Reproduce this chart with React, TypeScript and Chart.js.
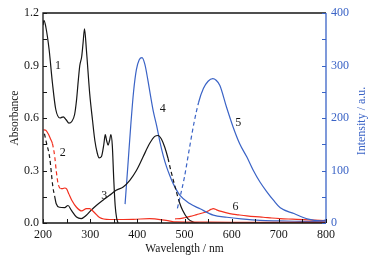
import React, { useEffect, useRef } from "react";
import { Chart, registerables } from "chart.js";
Chart.register(...registerables);

// ---- data ----
const nm1 = [200, 202, 206, 213, 220, 227, 236, 243, 249, 255, 261, 267, 271, 275, 278, 282, 285, 288, 292, 299, 305, 310, 315, 319, 324, 329, 332, 335, 338, 341, 344, 347, 350, 353, 356, 359];
const abs1 = [1.13, 1.158, 1.12, 0.99, 0.8, 0.65, 0.6, 0.607, 0.59, 0.571, 0.58, 0.62, 0.7, 0.82, 0.9, 0.95, 1.03, 1.11, 0.99, 0.74, 0.587, 0.47, 0.4, 0.372, 0.38, 0.45, 0.505, 0.47, 0.445, 0.47, 0.505, 0.44, 0.25, 0.1, 0.03, 0.0];

const nm2 = [201, 206, 211, 216, 220, 225, 228, 232, 237, 242, 246, 250, 255, 261, 271, 282, 292, 299, 305, 310, 320, 341, 391, 426, 461, 483, 520, 600, 700, 800];
const abs2 = [0.533, 0.53, 0.51, 0.48, 0.454, 0.377, 0.3, 0.225, 0.197, 0.196, 0.2, 0.195, 0.165, 0.13, 0.09, 0.069, 0.082, 0.082, 0.07, 0.057, 0.031, 0.02, 0.021, 0.025, 0.015, 0.006, 0.005, 0.004, 0.004, 0.004];
const dash2 = [[220, 237]];

const nm3 = [203, 208, 214, 221, 225, 228, 235, 246, 253, 260, 271, 281, 292, 302, 313, 327, 341, 355, 370, 384, 398, 412, 426, 437, 444, 451, 458, 465, 471, 482, 489, 496, 507, 518, 530];
const abs3 = [0.51, 0.45, 0.377, 0.206, 0.149, 0.11, 0.09, 0.088, 0.1, 0.073, 0.034, 0.025, 0.044, 0.073, 0.1, 0.13, 0.158, 0.187, 0.206, 0.244, 0.3, 0.377, 0.454, 0.495, 0.5, 0.48, 0.434, 0.37, 0.3, 0.187, 0.12, 0.073, 0.025, 0.006, 0.0];
const dash3 = [[203, 225], [465, 492]];

const nm4 = [374, 380, 386, 392, 398, 404, 410, 416, 422, 428, 434, 441, 448, 455, 462, 469, 476, 490, 511, 533, 561, 590, 620, 660, 700, 750, 800];
const int4 = [36, 110, 185, 250, 292, 311, 315, 302, 274, 242, 212, 185, 154, 128, 107, 90, 75, 53, 37, 27, 15, 11, 8, 5, 4, 3, 2];

const nm5 = [485, 492, 500, 510, 520, 530, 540, 550, 560, 567, 575, 589, 603, 617, 632, 646, 660, 675, 689, 703, 732, 760, 789, 800];
const int5 = [28, 55, 88, 140, 190, 230, 256, 270, 275, 272, 262, 221, 183, 151, 126, 100, 78, 59, 43, 29, 18, 8, 4, 6];
const dash5 = [[485, 530]];

const nm6 = [480, 490, 500, 512, 526, 540, 550, 556, 561, 568, 578, 596, 615, 632, 650, 667, 685, 702, 720, 738, 762, 787, 800];
const int6 = [8, 8.4, 10, 12.5, 16, 19.5, 23, 26, 27.5, 25, 22, 18, 15.5, 13.5, 12, 11, 9.5, 8.4, 7.6, 7, 6, 5, 4.5];

const curveLabels = ["1", "2", "3", "4", "5", "6"];
const curveLabelNm = [232, 242, 330, 454, 614, 608];
const curveLabelAbs = [0.9, 0.4, 0.153, 0.65, 0.571, 0.095];

const xTitle = "Wavelength / nm";
const yTitle = "Absorbance";
const y2Title = "Intensity / a.u.";

// ---- styles ----
const FONT = "'Liberation Serif', 'DejaVu Serif', serif";
const BLACK = "#161616";
const RED = "#f2301f";
const BLUE = "#3a63c6";

function pts(xs: number[], ys: number[]) {
  return xs.map((x, i) => ({ x, y: ys[i] }));
}

function dashSeg(ranges: number[][]) {
  return (ctx: any) => {
    const a = ctx.p0.parsed.x;
    const b = ctx.p1.parsed.x;
    for (const r of ranges) {
      if (a >= r[0] && b <= r[1]) return [4, 3];
    }
    return undefined;
  };
}

function mkSet(data: any[], color: string, axis: string, dashes?: number[][]) {
  return {
    data,
    borderColor: color,
    backgroundColor: color,
    borderWidth: 1.2,
    pointRadius: 0,
    cubicInterpolationMode: "monotone" as const,
    yAxisID: axis,
    segment: dashes ? { borderDash: dashSeg(dashes) } : undefined,
  };
}

const decorPlugin = {
  id: "decor",
  afterDraw(chart: any) {
    const { ctx, chartArea } = chart;
    const { left, right, top, bottom } = chartArea;
    const sx = chart.scales.x;
    const sy = chart.scales.y;
    const sy2 = chart.scales.y2;
    ctx.save();
    // frame
    ctx.lineWidth = 1.3;
    ctx.strokeStyle = BLACK;
    ctx.beginPath();
    ctx.moveTo(right, top);
    ctx.lineTo(left, top);
    ctx.lineTo(left, bottom);
    ctx.lineTo(right, bottom);
    ctx.stroke();
    ctx.strokeStyle = BLUE;
    ctx.beginPath();
    ctx.moveTo(right, top);
    ctx.lineTo(right, bottom);
    ctx.stroke();
    // inward ticks
    const TL = 4;
    ctx.lineWidth = 1;
    ctx.strokeStyle = BLACK;
    ctx.beginPath();
    for (const t of sx.ticks) {
      const px = Math.round(sx.getPixelForValue(t.value)) + 0.5;
      ctx.moveTo(px, bottom);
      ctx.lineTo(px, bottom - TL);
    }
    for (const t of sy.ticks) {
      const py = Math.round(sy.getPixelForValue(t.value)) + 0.5;
      ctx.moveTo(left, py);
      ctx.lineTo(left + TL, py);
    }
    ctx.stroke();
    ctx.strokeStyle = BLUE;
    ctx.beginPath();
    for (const t of sy2.ticks) {
      const py = Math.round(sy2.getPixelForValue(t.value)) + 0.5;
      ctx.moveTo(right, py);
      ctx.lineTo(right - TL, py);
    }
    ctx.stroke();
    // curve labels
    ctx.fillStyle = BLACK;
    ctx.font = `12px ${FONT}`;
    ctx.textAlign = "center";
    ctx.textBaseline = "middle";
    curveLabels.forEach((txt, i) => {
      ctx.fillText(txt, sx.getPixelForValue(curveLabelNm[i]), sy.getPixelForValue(curveLabelAbs[i]));
    });
    // right title (reads bottom to top)
    ctx.fillStyle = BLUE;
    ctx.font = `12px ${FONT}`;
    ctx.translate(362, (top + bottom) / 2 + 3);
    ctx.rotate(-Math.PI / 2);
    ctx.fillText(y2Title, 0, 0);
    ctx.restore();
  },
};

function fmtEvery(step: number, digits: number) {
  return (v: any) => {
    const n = Number(v);
    const r = n / step;
    return Math.abs(r - Math.round(r)) < 1e-6 ? n.toFixed(digits) : "";
  };
}

export default function App() {
  const ref = useRef<HTMLCanvasElement | null>(null);
  useEffect(() => {
    if (!ref.current) return;
    const chart = new Chart(ref.current, {
      type: "line",
      data: {
        datasets: [
          mkSet(pts(nm1, abs1), BLACK, "y"),
          mkSet(pts(nm2, abs2), RED, "y", dash2),
          mkSet(pts(nm3, abs3), BLACK, "y", dash3),
          mkSet(pts(nm4, int4), BLUE, "y2"),
          mkSet(pts(nm5, int5), BLUE, "y2", dash5),
          mkSet(pts(nm6, int6), RED, "y2"),
        ] as any,
      },
      options: {
        animation: false,
        responsive: false,
        maintainAspectRatio: false,
        events: [],
        layout: { padding: { top: 13, left: 0, right: 0, bottom: 0 } },
        plugins: { legend: { display: false }, tooltip: { enabled: false } },
        scales: {
          x: {
            type: "linear",
            position: "bottom",
            min: 200,
            max: 800,
            grid: { display: false, drawTicks: false },
            border: { display: false },
            ticks: {
              stepSize: 50,
              autoSkip: false,
              maxRotation: 0,
              padding: 5,
              color: BLACK,
              font: { family: FONT, size: 12 },
              callback: fmtEvery(100, 0),
            },
            title: {
              display: true,
              text: xTitle,
              color: BLACK,
              font: { family: FONT, size: 11.5 },
              padding: { top: 0, bottom: 7 },
            },
            afterFit: (s: any) => {
              s.height = 40;
            },
          },
          y: {
            type: "linear",
            position: "left",
            min: 0,
            max: 1.2,
            grid: { display: false, drawTicks: false },
            border: { display: false },
            ticks: {
              stepSize: 0.15,
              autoSkip: false,
              padding: 4,
              color: BLACK,
              font: { family: FONT, size: 12 },
              callback: fmtEvery(0.3, 1),
            },
            title: {
              display: true,
              text: yTitle,
              color: BLACK,
              font: { family: FONT, size: 11.5 },
              padding: { top: 8, bottom: 0 },
            },
            afterFit: (s: any) => {
              s.width = 43;
            },
          },
          y2: {
            type: "linear",
            position: "right",
            min: 0,
            max: 400,
            grid: { display: false, drawTicks: false },
            border: { display: false },
            ticks: {
              stepSize: 50,
              autoSkip: false,
              padding: 5,
              color: BLUE,
              font: { family: FONT, size: 12 },
              callback: fmtEvery(100, 0),
            },
            afterFit: (s: any) => {
              s.width = 59;
            },
          },
        },
      } as any,
      plugins: [decorPlugin],
    });
    return () => chart.destroy();
  }, []);
  return (
    <div style={{ position: "fixed", left: 0, top: 0, width: 385, height: 263, background: "#fff" }}>
      <canvas ref={ref} width={385} height={263} style={{ width: 385, height: 263, display: "block" }} />
    </div>
  );
}
